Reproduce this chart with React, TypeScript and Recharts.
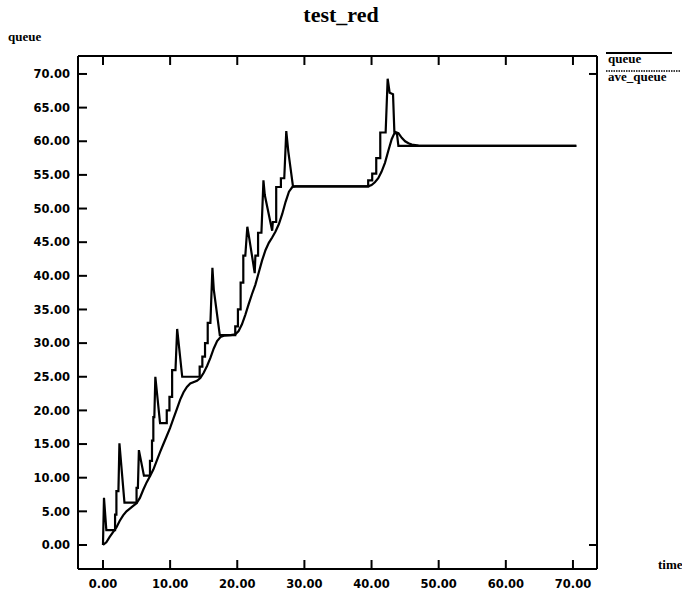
import React from 'react';
import { LineChart, Line, XAxis, YAxis, Legend } from 'recharts';

const seriesNames = ['queue', 'ave_queue'];

const queueTime = [
  0, 0.15, 0.5, 1.8, 1.8, 2.0, 2.0, 2.3, 2.45, 3.2, 5.0, 5.0, 5.2, 5.35, 6.1, 7.0, 7.0, 7.3, 7.3, 7.5, 7.5, 7.65, 7.8,
  8.5, 9.5, 9.5, 9.9, 9.9, 10.3, 10.3, 10.8, 11.05, 11.8, 14.4, 14.4, 14.8, 14.8, 15.2, 15.2, 15.6, 15.6, 16.0, 16.3,
  16.5, 17.4, 19.7, 19.7, 20.1, 20.1, 20.5, 20.5, 20.9, 20.9, 21.2, 21.5, 21.8, 22.6, 22.7, 23.1, 23.1, 23.6, 23.9,
  24.1, 25.2, 25.3, 25.8, 25.8, 26.5, 26.5, 27.0, 27.3, 27.6, 28.3, 39.5, 39.5, 40.1, 40.1, 40.7, 40.7, 41.3, 41.3,
  42.1, 42.4, 42.7, 43.2, 43.4, 43.8, 44.0, 70.5,
];
const queueLevel = [
  0, 7.0, 2.2, 2.2, 4.5, 4.5, 8.0, 8.0, 15.1, 6.3, 6.3, 8.5, 8.5, 14.1, 10.3, 10.3, 12.5, 12.5, 15.5, 15.5, 19, 19, 25,
  18.1, 18.1, 20, 20, 22, 22, 26, 26, 32.1, 25, 25, 26.5, 26.5, 28, 28, 30, 30, 33, 33, 41.2,
  38, 31.2, 31.2, 32.5, 32.5, 35, 35, 39, 39, 43, 43, 47.3, 45.5, 40.4, 43, 43, 46.4, 46.4, 54.2,
  52, 46.7, 48, 48, 53.2, 53.2, 54.5, 54.5, 61.5, 58.5, 53.3, 53.3, 54.2, 54.2, 55.2, 55.2, 57.5, 57.5, 61.3,
  61.3, 69.3, 67.2, 67, 61.4, 61, 59.3, 59.3,
];

const aveTime = [
  0, 0.5, 1, 1.5, 2, 2.5, 3, 3.5, 4, 4.5, 5, 5.5, 6, 6.5, 7, 7.5, 8, 8.5, 9, 9.5, 10, 10.5, 11, 11.5, 12, 12.5, 13,
  14, 14.5, 15, 15.5, 16, 16.5, 17, 17.5, 18, 19, 19.7, 20.2, 20.7, 21.2, 21.7, 22.2, 22.7, 23.2, 23.7, 24.2, 24.7,
  25.2, 25.7, 26.2, 26.7, 27.2, 27.7, 28.2, 28.7, 39.5, 40, 40.5, 41, 41.5, 42, 42.5, 43, 43.5, 44, 44.5, 45, 45.5,
  46, 47, 48, 70.5,
];
const aveLevel = [
  0, 0.4, 1.2, 1.9, 2.6, 3.6, 4.4, 5.0, 5.4, 5.8, 6.2, 7.0, 8.2, 9.3, 10.2, 11.2, 12.5, 13.8, 15.0, 16.2, 17.4, 18.8,
  20.2, 21.6, 22.7, 23.5, 24.0, 24.4, 24.8, 25.6, 26.6, 27.8, 29.2, 30.3, 30.9, 31.1, 31.2, 31.3, 31.8, 32.8, 34.2,
  35.8, 37.3, 38.7, 40.5, 42.3, 43.8, 44.9, 45.7, 46.6, 47.7, 49.2, 51.0, 52.5, 53.2, 53.3, 53.3, 53.5, 53.9, 54.5,
  55.5, 56.8, 58.6, 60.3, 61.4, 61.2, 60.5, 60.0, 59.7, 59.5, 59.35, 59.3, 59.3,
];

const xTicks = [0, 10, 20, 30, 40, 50, 60, 70];
const yTicks = [0, 5, 10, 15, 20, 25, 30, 35, 40, 45, 50, 55, 60, 65, 70];
const rightTicks = [0, 70];

const queueData = queueTime.map((t, i) => ({ t, v: queueLevel[i] }));
const aveData = aveTime.map((t, i) => ({ t, v: aveLevel[i] }));

const X_DOMAIN: [number, number] = [-3.72, 73.58];
const Y_DOMAIN: [number, number] = [-3.57, 72.67];

const tickFont = { fontFamily: 'DejaVu Sans', fontWeight: 'bold' as const, fontSize: 11.5, fill: '#000' };
const serifBold = { fontFamily: 'Liberation Serif', fontWeight: 'bold' as const, fill: '#000' };

const BottomTick = (props: any) => {
  const { x, y, payload } = props;
  return (
    <g>
      <line x1={x} y1={y} x2={x} y2={y - 9} stroke="#000" strokeWidth={2} />
      <text x={x} y={y + 19} textAnchor="middle" {...tickFont} stroke="none">
        {Number(payload.value).toFixed(2)}
      </text>
    </g>
  );
};

const TopTick = (props: any) => {
  const { x, y } = props;
  return <line x1={x} y1={y} x2={x} y2={y + 9} stroke="#000" strokeWidth={2} />;
};

const LeftTick = (props: any) => {
  const { x, y, payload } = props;
  return (
    <g>
      <line x1={x} y1={y} x2={x + 9} y2={y} stroke="#000" strokeWidth={2} />
      <text x={x - 8} y={y + 4.2} textAnchor="end" {...tickFont} stroke="none">
        {Number(payload.value).toFixed(2)}
      </text>
    </g>
  );
};

const RightTick = (props: any) => {
  const { x, y } = props;
  return <line x1={x} y1={y} x2={x - 8} y2={y} stroke="#000" strokeWidth={2} />;
};

const LegendContent = (props: any) => {
  const payload = props.payload || [];
  const items = seriesNames.map((n) => payload.find((p: any) => p.value === n) || { value: n });
  return (
    <svg width={78} height={42} style={{ display: 'block' }}>
      {items.map((item: any, i: number) => (
        <g key={i}>
          <line
            x1={2}
            x2={i === 0 ? 68 : 76}
            y1={5 + i * 18}
            y2={5 + i * 18}
            stroke="#000"
            strokeWidth={i === 0 ? 2 : 1.5}
            strokeDasharray={i === 0 ? undefined : '1.5 1'}
          />
          <text x={4} y={15 + i * 18} fontSize={13} {...serifBold}>
            {item.value}
          </text>
        </g>
      ))}
    </svg>
  );
};

export default function App() {
  return (
    <div style={{ position: 'absolute', left: 0, top: 0, width: 682, height: 591, background: '#fff' }}>
      <LineChart
        width={682}
        height={591}
        margin={{ top: 55, right: 84, bottom: 0, left: 0 }}
      >
        <XAxis
          xAxisId="bottom"
          type="number"
          dataKey="t"
          domain={X_DOMAIN}
          allowDataOverflow
          ticks={xTicks}
          interval={0}
          height={22}
          tickSize={0}
          tickMargin={0}
          stroke="#000"
          strokeWidth={2}
          tick={<BottomTick />}
        />
        <XAxis
          xAxisId="top"
          orientation="top"
          type="number"
          dataKey="t"
          domain={X_DOMAIN}
          allowDataOverflow
          ticks={xTicks}
          interval={0}
          height={1}
          tickSize={0}
          tickMargin={0}
          stroke="#000"
          strokeWidth={2}
          tick={<TopTick />}
        />
        <YAxis
          yAxisId="left"
          type="number"
          domain={Y_DOMAIN}
          allowDataOverflow
          ticks={yTicks}
          interval={0}
          width={78}
          tickSize={0}
          tickMargin={0}
          stroke="#000"
          strokeWidth={2}
          tick={<LeftTick />}
        />
        <YAxis
          yAxisId="right"
          orientation="right"
          type="number"
          domain={Y_DOMAIN}
          allowDataOverflow
          ticks={rightTicks}
          interval={0}
          width={1}
          tickSize={0}
          tickMargin={0}
          stroke="#000"
          strokeWidth={2}
          tick={<RightTick />}
        />
        <Legend
          layout="horizontal"
          align="center"
          verticalAlign="middle"
          content={<LegendContent />}
          wrapperStyle={{ position: 'absolute', left: 604, top: 48, width: 78, height: 42 }}
        />
        <Line
          data={queueData}
          dataKey="v"
          name={seriesNames[0]}
          xAxisId="bottom"
          yAxisId="left"
          type="linear"
          stroke="#000"
          strokeWidth={2.2}
          dot={false}
          activeDot={false}
          isAnimationActive={false}
        />
        <Line
          data={aveData}
          dataKey="v"
          name={seriesNames[1]}
          xAxisId="top"
          yAxisId="right"
          type="linear"
          stroke="#000"
          strokeWidth={2.2}
          dot={false}
          activeDot={false}
          isAnimationActive={false}
        />
      </LineChart>
      <svg
        width={682}
        height={591}
        style={{ position: 'absolute', left: 0, top: 0, pointerEvents: 'none' }}
      >
        <text x={341} y={22} textAnchor="middle" fontSize={22} {...serifBold}>
          test_red
        </text>
        <text x={8} y={41} fontSize={13} {...serifBold}>
          queue
        </text>
        <text x={658} y={569} fontSize={13} {...serifBold}>
          time
        </text>
      </svg>
    </div>
  );
}
